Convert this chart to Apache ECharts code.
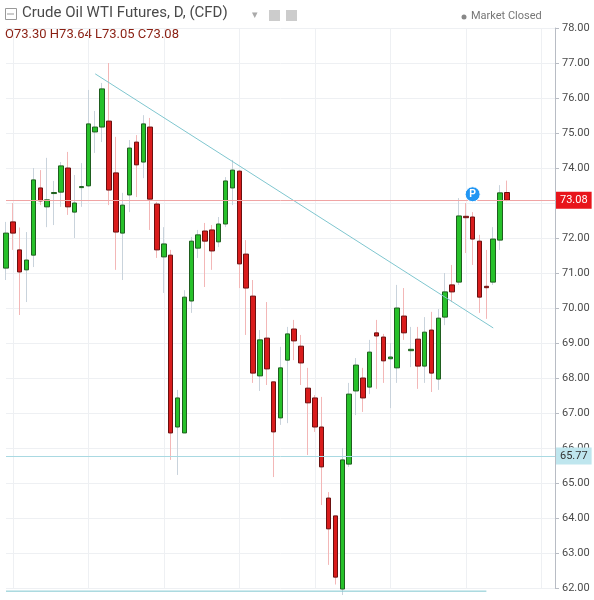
<!DOCTYPE html>
<html>
<head>
<meta charset="utf-8">
<script src="https://cdn.jsdelivr.net/npm/echarts@6/dist/echarts.min.js"></script>
<style>
html,body{margin:0;padding:0;background:#fff;}
#chart{width:594px;height:600px;}
</style>
</head>
<body>
<div id="chart"></div>
<script>
// daily candles
let opens  = [71.14,72.46,71.66,71.09,71.51,73.43,72.89,73.27,73.31,74.00,72.74,73.44,73.49,75.03,75.17,75.34,73.86,72.14,73.23,74.74,74.17,75.17,72.97,71.46,71.51,66.60,66.43,70.20,71.71,72.20,72.23,71.89,72.40,73.43,73.91,71.54,70.34,68.06,69.14,67.89,66.86,68.51,69.40,68.91,67.71,67.43,66.60,64.57,64.06,61.97,65.54,67.63,68.00,67.74,69.29,69.17,68.55,68.29,69.77,68.78,69.11,68.34,69.37,67.97,69.74,70.66,70.74,72.62,72.60,71.91,70.62,70.74,71.94,73.30]
let highs  = [72.46,73.00,72.30,72.17,74.00,73.94,74.29,73.63,74.17,74.46,73.80,74.14,76.23,75.63,76.43,77.00,74.89,73.29,74.80,74.94,75.51,75.43,73.03,72.31,71.66,67.66,70.51,72.03,72.23,72.43,72.37,72.60,73.74,74.23,73.94,71.94,70.80,69.37,70.17,67.89,68.89,69.46,69.66,69.23,68.29,67.51,67.46,64.74,64.06,66.00,67.86,68.57,68.29,69.09,69.66,69.26,69.00,70.66,70.57,69.46,69.46,69.74,69.89,69.97,71.00,71.23,73.14,73.00,72.74,72.09,71.66,72.31,73.51,73.64]
let lows   = [70.80,71.66,69.80,70.17,71.17,72.94,72.31,72.37,72.89,72.66,72.00,72.89,73.46,74.43,74.74,72.94,71.09,70.80,72.74,73.17,73.71,72.23,71.43,70.43,65.66,65.23,66.43,69.86,71.43,70.60,71.09,71.74,72.31,72.94,70.57,69.23,67.86,67.63,67.80,65.17,66.66,66.71,68.51,67.80,65.80,66.46,64.37,62.66,62.10,61.80,65.46,66.94,67.03,67.54,67.69,67.86,67.14,67.86,69.09,68.31,67.69,67.86,67.60,67.66,69.51,70.17,70.66,71.57,71.23,69.86,69.69,70.66,71.66,73.05]
let closes = [72.14,72.14,71.03,71.37,73.66,73.06,73.09,73.30,74.06,72.89,73.00,73.47,75.26,75.17,76.26,73.37,72.17,72.94,74.57,74.09,75.26,73.11,71.66,71.83,66.43,67.43,70.31,71.91,72.09,71.91,71.63,72.40,73.63,73.94,71.26,70.57,68.14,69.09,68.26,66.46,68.29,69.26,69.06,68.43,67.29,66.60,65.46,63.69,62.31,65.66,67.54,68.37,67.43,68.74,69.20,68.49,68.60,70.00,69.29,68.82,68.34,69.31,68.14,69.71,70.46,70.46,72.63,72.58,71.97,70.31,70.58,71.97,73.29,73.08]
let emptySlots = 7
let yTicks = {min: 62, max: 78, step: 1}
let lastPrice = 73.08
let supportLevel = 65.77
let bottomLevel = 61.91
let trendStart = [12.9, 76.69]
let trendEnd = [70.9, 69.43]
let bottomLineEnd = 70
let pMarker = [68, 73.25]

let cats = []
for (let i = 0; i < opens.length + emptySlots; i++) cats.push(String(i))

let wickData = opens.map((o, i) => [o, closes[i], lows[i], highs[i]])
let bodyData = opens.map((o, i) => [o, closes[i], Math.min(o, closes[i]), Math.max(o, closes[i])])

let upColor = '#27c12a'
let downColor = '#d91c1c'

let myChart = echarts.init(document.getElementById('chart'))
myChart.setOption({
    animation: false,
    grid: {left: 6, right: 39, top: 28, bottom: 12, containLabel: false},
    xAxis: {
        type: 'category', data: cats, boundaryGap: false,
        axisLine: {show: false}, axisTick: {show: false}, axisLabel: {show: false},
        splitLine: {show: true, interval: (idx) => (idx - 1) % 11 === 0, lineStyle: {color: '#eef0f3'}}
    },
    yAxis: {
        type: 'value', position: 'right', min: yTicks.min, max: yTicks.max, interval: yTicks.step,
        axisLine: {show: true, lineStyle: {color: '#b8bcc4'}},
        axisTick: {show: true, length: 4, lineStyle: {color: '#b8bcc4'}},
        axisLabel: {color: '#4a4a4a', fontSize: 11, fontFamily: 'Roboto', formatter: v => v.toFixed(2), margin: 7},
        splitLine: {lineStyle: {color: '#eef0f3'}}
    },
    series: [
        {
            type: 'line', clip: false, silent: true, showSymbol: false, symbol: 'none',
            data: [[0, bottomLevel], [bottomLineEnd, bottomLevel]],
            lineStyle: {color: '#7fc6cf', width: 1}
        },
        {
            type: 'candlestick', data: wickData, barWidth: 1, silent: true, clip: false,
            itemStyle: {color: '#c9d3dc', color0: '#f3b7b7', borderColor: '#c9d3dc', borderColor0: '#f3b7b7', borderWidth: 1},
            markLine: {
                symbol: 'none', silent: true, animation: false,
                data: [[{coord: trendStart}, {coord: trendEnd}]],
                lineStyle: {color: '#7fc6cf', width: 1, type: 'solid'},
                label: {show: false}
            }
        },
        {
            type: 'candlestick', data: bodyData, barWidth: 5, clip: false,
            itemStyle: {color: upColor, color0: downColor, borderColor: '#1f5f1f', borderColor0: '#6b1010', borderWidth: 1},
            markLine: {
                symbol: 'none', silent: true, animation: false,
                data: [
                    {yAxis: lastPrice, lineStyle: {color: '#f0a4a4', width: 1, type: 'solid'},
                     label: {show: true, position: 'end', formatter: lastPrice.toFixed(2), color: '#fff', backgroundColor: '#e8151b', padding: [3, 4], fontSize: 11, fontFamily: 'Roboto', distance: 1}},
                    {yAxis: supportLevel, lineStyle: {color: '#a9d9e2', width: 1, type: 'solid'},
                     label: {show: true, position: 'end', formatter: supportLevel.toFixed(2), color: '#333', backgroundColor: '#bfe6ee', padding: [3, 4], fontSize: 11, fontFamily: 'Roboto', distance: 1}}
                ]
            },
            markPoint: {
                silent: true, animation: false,
                data: [{coord: pMarker, symbol: 'circle', symbolSize: 15,
                        itemStyle: {color: '#2196f3', borderColor: '#fff', borderWidth: 1},
                        label: {show: true, formatter: 'P', color: '#fff', fontSize: 10, fontWeight: 'bold'}}]
            }
        }
    ],
    graphic: [
        {type: 'rect', left: 5, top: 8, shape: {width: 11, height: 11}, style: {fill: '#fff', stroke: '#999', lineWidth: 1}},
        {type: 'line', shape: {x1: 7, y1: 14, x2: 14, y2: 14}, style: {stroke: '#999', lineWidth: 1}},
        {type: 'text', left: 22, top: 6, style: {text: 'Crude Oil WTI Futures, D, (CFD)', fill: '#4a4a4a', font: '15px Roboto'}},
        {type: 'text', left: 252, top: 10, style: {text: '▾', fill: '#aaa', font: '11px "DejaVu Sans"'}},
        {type: 'rect', left: 269, top: 10, shape: {width: 11, height: 11}, style: {fill: '#ccc'}},
        {type: 'rect', left: 286, top: 10, shape: {width: 11, height: 11}, style: {fill: '#ccc'}},
        {type: 'text', left: 5, top: 28, style: {text: 'O73.30 H73.64 L73.05 C73.08', fill: '#8a1f12', font: '13px Roboto'}},
        {type: 'circle', shape: {cx: 464, cy: 17, r: 2.5}, style: {fill: '#888'}},
        {type: 'text', left: 471, top: 11, style: {text: 'Market Closed', fill: '#777', font: '11px Roboto'}}
    ]
})
</script>
</body>
</html>
